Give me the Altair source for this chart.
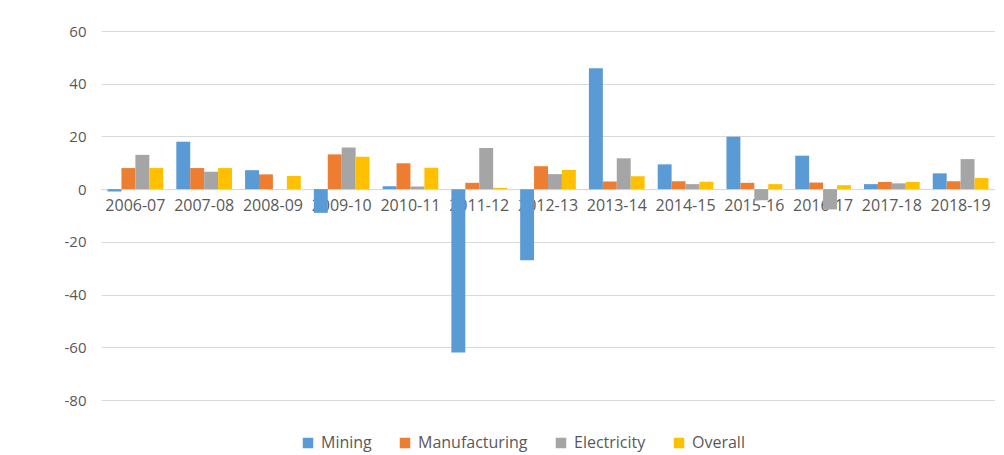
import altair as alt
import pandas as pd

years = ["2006-07", "2007-08", "2008-09", "2009-10", "2010-11", "2011-12", "2012-13",
         "2013-14", "2014-15", "2015-16", "2016-17", "2017-18", "2018-19"]
series = ["Mining", "Manufacturing", "Electricity", "Overall"]
mining = [-0.9, 18, 7.2, -9, 1.1, -62, -27, 45.9, 9.4, 19.9, 12.7, 1.9, 6]
manufacturing = [8, 8, 5.6, 13.2, 9.8, 2.4, 8.7, 2.9, 3, 2.4, 2.5, 2.7, 3]
electricity = [13, 6.6, 0, 15.8, 1, 15.6, 5.7, 11.7, 1.9, -4.2, -7.7, 2.2, 11.4]
overall = [8, 8, 5, 12.3, 8.1, 0.5, 7.3, 4.9, 2.8, 1.9, 1.5, 2.7, 4.2]
colors = ["#5B9BD5", "#ED7D31", "#A5A5A5", "#FFC000"]
y_ticks = [-80, -60, -40, -20, 0, 20, 40, 60]

values = {"Mining": mining, "Manufacturing": manufacturing,
          "Electricity": electricity, "Overall": overall}
rows = []
for s in series:
    for yr, v in zip(years, values[s]):
        rows.append({"year": yr, "series": s, "value": v})
df = pd.DataFrame(rows)

W, H = 894, 369
zero_from_bottom = H * 80 / 140

chart = alt.Chart(df).mark_bar().encode(
    x=alt.X("year:N", sort=years,
            scale=alt.Scale(paddingInner=0.19, paddingOuter=0.095),
            axis=alt.Axis(title=None, labelAngle=0, ticks=False, domain=True,
                          domainColor="#d9d9d9", offset=-zero_from_bottom,
                          labelPadding=8, labelFontSize=16, labelColor="#595959",
                          labelFont="Open Sans", grid=False)),
    xOffset=alt.XOffset("series:N", sort=series,
                        scale=alt.Scale(paddingInner=0, paddingOuter=0)),
    y=alt.Y("value:Q", scale=alt.Scale(domain=[-80, 60], nice=False),
            axis=alt.Axis(title=None, values=y_ticks, ticks=False, domain=False,
                          grid=True, gridColor="#d9d9d9", labelPadding=15,
                          labelExpr="'' + datum.value",
                          labelFontSize=15, labelColor="#595959", labelFont="Open Sans")),
    color=alt.Color("series:N", sort=series,
                    scale=alt.Scale(domain=series, range=colors),
                    legend=alt.Legend(title=None, orient="none", direction="horizontal",
                                      legendX=199, legendY=404, symbolType="square",
                                      symbolSize=110, symbolStrokeWidth=0,
                                      labelFontSize=16, labelColor="#595959",
                                      labelFont="Open Sans", labelOffset=5,
                                      columnPadding=25, padding=0)),
).properties(
    width=W, height=H,
    autosize=alt.AutoSizeParams(type="none"),
    padding={"left": 93, "top": 23, "right": 0, "bottom": 52},
).configure_view(stroke=None)

chart.save("out.html", embed_options={"renderer": "svg", "actions": False})
